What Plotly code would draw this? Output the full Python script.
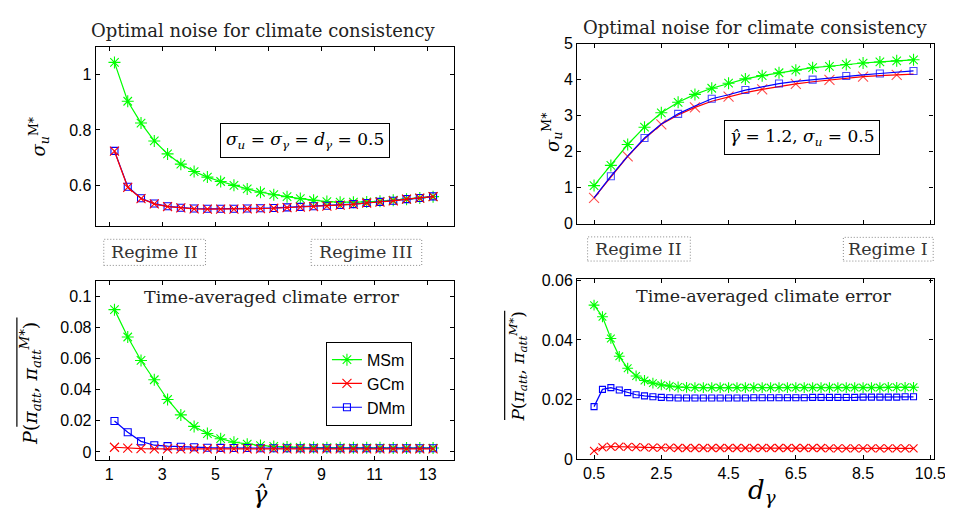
import plotly.graph_objects as go

# ---------------- data ----------------
gamma_hat = [1.2, 1.7, 2.2, 2.7, 3.2, 3.7, 4.2, 4.7, 5.2, 5.7, 6.2, 6.7, 7.2,
             7.7, 8.2, 8.7, 9.2, 9.7, 10.2, 10.7, 11.2, 11.7, 12.2, 12.7, 13.2]

msm_noise_g = [1.045, 0.904, 0.825, 0.760, 0.713, 0.676, 0.649, 0.629, 0.613, 0.599,
               0.586, 0.574, 0.565, 0.558, 0.551, 0.545, 0.540, 0.538, 0.538, 0.539,
               0.541, 0.545, 0.549, 0.553, 0.558]
gcm_noise_g = [0.723, 0.592, 0.551, 0.532, 0.522, 0.517, 0.514, 0.513, 0.513, 0.513,
               0.514, 0.515, 0.516, 0.518, 0.520, 0.522, 0.524, 0.527, 0.530, 0.535,
               0.538, 0.543, 0.549, 0.553, 0.558]
dmm_noise_g = [0.724, 0.594, 0.552, 0.533, 0.523, 0.518, 0.515, 0.514, 0.514, 0.514,
               0.515, 0.516, 0.517, 0.519, 0.521, 0.523, 0.525, 0.528, 0.531, 0.535,
               0.539, 0.543, 0.549, 0.553, 0.559]

msm_err_g = [0.0915, 0.0739, 0.0588, 0.0464, 0.0337, 0.0238, 0.0164, 0.0118, 0.0085, 0.0062,
             0.0050, 0.0041, 0.0035, 0.0031, 0.0029, 0.0028, 0.0027, 0.0027, 0.0026, 0.0026,
             0.0026, 0.0025, 0.0025, 0.0025, 0.0025]
gcm_err_g = [0.0030, 0.0025, 0.0021, 0.0020, 0.0020, 0.0019, 0.0019, 0.0019, 0.0019, 0.0019,
             0.0019, 0.0019, 0.0019, 0.0019, 0.0019, 0.0019, 0.0019, 0.0019, 0.0019, 0.0019,
             0.0019, 0.0019, 0.0019, 0.0019, 0.0019]
dmm_err_g = [0.0199, 0.0126, 0.0068, 0.0043, 0.0037, 0.0033, 0.0030, 0.0027, 0.0026, 0.0025,
             0.0025, 0.0024, 0.0024, 0.0024, 0.0024, 0.0024, 0.0024, 0.0024, 0.0024, 0.0024,
             0.0024, 0.0024, 0.0024, 0.0024, 0.0024]

d_gamma_top = [0.5, 1.0, 1.5, 2.0, 2.5, 3.0, 3.5, 4.0, 4.5, 5.0,
               5.5, 6.0, 6.5, 7.0, 7.5, 8.0, 8.5, 9.0, 9.5, 10.0]
msm_noise_d = [1.06, 1.62, 2.20, 2.68, 3.08, 3.37, 3.59, 3.76, 3.90, 4.02,
               4.11, 4.19, 4.26, 4.33, 4.37, 4.42, 4.46, 4.49, 4.52, 4.55]
gcm_noise_d = [0.72, 1.30, 1.87, 2.36, 2.76, 3.02, 3.23, 3.40, 3.53, 3.64,
               3.73, 3.81, 3.88, 3.94, 3.99, 4.04, 4.08, 4.11, 4.13, 4.15]
dmm_noise_d = [0.72, 1.32, 1.88, 2.38, 2.77, 3.05, 3.27, 3.47, 3.58, 3.71,
               3.80, 3.89, 3.95, 4.00, 4.05, 4.10, 4.13, 4.17, 4.20, 4.24]

d_gamma_bot = [0.5, 0.75, 1.0, 1.25, 1.5, 1.75, 2.0, 2.25, 2.5, 2.75,
               3.0, 3.25, 3.5, 3.75, 4.0, 4.25, 4.5, 4.75, 5.0, 5.25,
               5.5, 5.75, 6.0, 6.25, 6.5, 6.75, 7.0, 7.25, 7.5, 7.75,
               8.0, 8.25, 8.5, 8.75, 9.0, 9.25, 9.5, 9.75, 10.0]
msm_err_d = [0.0517, 0.0478, 0.0405, 0.0345, 0.0305, 0.0279, 0.0264, 0.0255, 0.0249, 0.0245,
             0.0242, 0.0241, 0.0240, 0.0240, 0.0240, 0.0240, 0.0240, 0.0240, 0.0240, 0.0240,
             0.0240, 0.0240, 0.0240, 0.0240, 0.0240, 0.0240, 0.0240, 0.0240, 0.0240, 0.0240,
             0.0240, 0.0240, 0.0240, 0.0240, 0.0240, 0.0241, 0.0241, 0.0241, 0.0241]
gcm_err_d = [0.0027, 0.0039, 0.0042, 0.0042, 0.0041, 0.0040, 0.0039, 0.0038, 0.0038, 0.0038,
             0.0037, 0.0037, 0.0037, 0.0037, 0.0037, 0.0037, 0.0037, 0.0037, 0.0037, 0.0037,
             0.0037, 0.0037, 0.0037, 0.0037, 0.0037, 0.0037, 0.0037, 0.0037, 0.0036, 0.0036,
             0.0036, 0.0036, 0.0036, 0.0036, 0.0036, 0.0036, 0.0036, 0.0036, 0.0036]
dmm_err_d = [0.0176, 0.0234, 0.0240, 0.0232, 0.0223, 0.0216, 0.0212, 0.0209, 0.0207, 0.0206,
             0.0205, 0.0205, 0.0205, 0.0205, 0.0205, 0.0205, 0.0205, 0.0205, 0.0205, 0.0206,
             0.0206, 0.0206, 0.0206, 0.0206, 0.0206, 0.0206, 0.0207, 0.0207, 0.0207, 0.0207,
             0.0207, 0.0207, 0.0208, 0.0208, 0.0208, 0.0208, 0.0208, 0.0209, 0.0209]

x_ticks_g = [1, 3, 5, 7, 9, 11, 13]
x_ticks_d = [0.5, 2.5, 4.5, 6.5, 8.5, 10.5]
series_names = ["MSm", "GCm", "DMm"]

# ---------------- styling ----------------
W, H = 953, 510
GREEN, RED, BLUE = "#00ff00", "#ff0000", "#0000ff"
SANS = "Liberation Sans, Arial, sans-serif"
SERIF = "DejaVu Serif, serif"


def px(x):
    return x / W


def py(y):
    return 1 - y / H


fig = go.Figure()


def add_series(x, y, axes, name, color, symbol, size, showlegend=False, sizes=None, rank=None):
    xa, ya = axes
    fig.add_trace(go.Scatter(
        x=x, y=y, xaxis=xa, yaxis=ya, name=name, mode="lines+markers",
        line=dict(color=color, width=1.2),
        marker=dict(symbol=symbol, size=sizes if sizes is not None else size,
                    color=color, line=dict(color=color, width=1.1)),
        showlegend=showlegend, legendrank=rank if rank else 1000,
    ))


# top-left
add_series(gamma_hat, msm_noise_g, ("x", "y"), "MSm", GREEN, "asterisk-open", 10)
add_series(gamma_hat, dmm_noise_g, ("x", "y"), "DMm", BLUE, "square-open", 7)
add_series(gamma_hat, gcm_noise_g, ("x", "y"), "GCm", RED, "x-thin-open", 9)
# bottom-left (legend)
add_series(gamma_hat, msm_err_g, ("x2", "y2"), "MSm", GREEN, "asterisk-open", 10, True, rank=1)
add_series(gamma_hat, dmm_err_g, ("x2", "y2"), "DMm", BLUE, "square-open", 7, True, rank=3)
add_series(gamma_hat, gcm_err_g, ("x2", "y2"), "GCm", RED, "x-thin-open", 9, True, rank=2)
# top-right: markers alternate between series
red_sizes = [10 if i % 2 == 0 else 0 for i in range(len(d_gamma_top))]
blue_sizes = [7 if i % 2 == 1 else 0 for i in range(len(d_gamma_top))]
add_series(d_gamma_top, msm_noise_d, ("x3", "y3"), "MSm", GREEN, "asterisk-open", 10)
add_series(d_gamma_top, gcm_noise_d, ("x3", "y3"), "GCm", RED, "x-thin-open", 10, sizes=red_sizes)
add_series(d_gamma_top, dmm_noise_d, ("x3", "y3"), "DMm", BLUE, "square-open", 7, sizes=blue_sizes)
# bottom-right
add_series(d_gamma_bot, msm_err_d, ("x4", "y4"), "MSm", GREEN, "asterisk-open", 9)
add_series(d_gamma_bot, dmm_err_d, ("x4", "y4"), "DMm", BLUE, "square-open", 6)
add_series(d_gamma_bot, gcm_err_d, ("x4", "y4"), "GCm", RED, "x-thin-open", 8)

axis_common = dict(showline=True, linecolor="black", linewidth=1.4, mirror="allticks",
                   ticks="inside", ticklen=4, tickwidth=1, tickcolor="black",
                   showgrid=False, zeroline=False,
                   tickfont=dict(family=SANS, size=16, color="black"))

dom_left = [px(89), px(452)]
dom_right = [px(576.5), px(937.5)]

fig.update_layout(
    width=W, height=H, margin=dict(l=0, r=0, t=0, b=0),
    paper_bgcolor="white", plot_bgcolor="white",
    xaxis=dict(domain=dom_left, anchor="y", range=[0.5, 14], tickvals=x_ticks_g,
               showticklabels=False, **axis_common),
    yaxis=dict(domain=[py(217.7), py(32.3)], anchor="x", range=[0.45, 1.1],
               tickvals=[0.6, 0.8, 1.0], ticktext=["0.6", "0.8", "1"], **axis_common),
    xaxis2=dict(domain=dom_left, anchor="y2", range=[0.5, 14], tickvals=x_ticks_g,
                ticktext=[str(v) for v in x_ticks_g], **axis_common),
    yaxis2=dict(domain=[py(459.3), py(274)], anchor="x2", range=[-0.0052, 0.11],
                tickvals=[0, 0.02, 0.04, 0.06, 0.08, 0.1],
                ticktext=["0", "0.02", "0.04", "0.06", "0.08", "0.1"], **axis_common),
    xaxis3=dict(domain=dom_right, anchor="y3", range=[0, 10.6], tickvals=x_ticks_d,
                showticklabels=False, **axis_common),
    yaxis3=dict(domain=[py(215), py(28.5)], anchor="x3", range=[0, 5],
                tickvals=[0, 1, 2, 3, 4, 5], **axis_common),
    xaxis4=dict(domain=dom_right, anchor="y4", range=[0, 10.6], tickvals=x_ticks_d,
                ticktext=[str(v) for v in x_ticks_d], **axis_common),
    yaxis4=dict(domain=[py(458.3), py(272)], anchor="x4", range=[0, 0.0605],
                tickvals=[0, 0.02, 0.04, 0.06], ticktext=["0", "0.02", "0.04", "0.06"],
                **axis_common),
    legend=dict(x=px(322), y=py(337), xanchor="left", yanchor="top",
                bgcolor="white", bordercolor="black", borderwidth=1,
                font=dict(family=SANS, size=16, color="black"),
                itemwidth=30, tracegroupgap=0),
)

ann = []


def text(x, y, t, size, family=SERIF, color="#222", angle=0, **kw):
    ann.append(dict(x=px(x), y=py(y), xref="paper", yref="paper", text=t, showarrow=False,
                    font=dict(family=family, size=size, color=color), textangle=angle,
                    xanchor="center", yanchor="middle", **kw))


title = "Optimal noise for climate consistency"
text(258.5, 15, title, 18)
text(757, 12, title, 18)
text(267.5, 291, "Time-averaged climate error", 17.5)
text(765.5, 290, "Time-averaged climate error", 17.5)

# parameter boxes
text(301, 128.5, "<i>σ</i><sub><i>u</i></sub> = <i>σ</i><sub><i>γ</i></sub> = <i>d</i><sub><i>γ</i></sub> = 0.5",
     17, color="black", bordercolor="black", borderwidth=1, bgcolor="white", borderpad=5)
text(804, 126, "<i>γ\u0302</i> = 1.2, <i>σ</i><sub><i>u</i></sub> = 0.5",
     17, color="black", bordercolor="black", borderwidth=1, bgcolor="white", borderpad=5)

# regime labels
regimes = [(97, 200, 231, 258, "Regime II"), (307, 419, 231, 258, "Regime III"),
           (587, 691, 228.5, 253.5, "Regime II"), (846, 937, 229, 253.5, "Regime I")]
shapes = []
for x0, x1, y0, y1, t in regimes:
    shapes.append(dict(type="rect", xref="paper", yref="paper", x0=px(x0), x1=px(x1),
                       y0=py(y1), y1=py(y0), line=dict(color="#888", width=1, dash="1px,2px")))
    text((x0 + x1) / 2, (y0 + y1) / 2, t, 17.5, color="#333")

# axis labels
text(256, 495, "<i>γ\u0302</i>", 24, color="black")
text(764, 492, "<i>d</i><sub><i>γ</i></sub>", 26, color="black")
text(31, 125, "<i>σ</i><sub><i>u</i></sub><sup>M*</sup>", 18, color="black", angle=-90)
text(551, 120, "<i>σ</i><sub><i>u</i></sub><sup>M*</sup>", 18, color="black", angle=-90)
p_label = "<i>P</i>(<i>π</i><sub><i>att</i></sub>, <i>π</i><sub><i>att</i></sub><sup><i>M</i>*</sup>)"
text(23, 380, p_label, 19, color="black", angle=-90)
text(517, 362, p_label, 17, color="black", angle=-90)
shapes.append(dict(type="line", xref="paper", yref="paper", x0=px(9), x1=px(9),
                   y0=py(425), y1=py(312), line=dict(color="black", width=1.2)))
shapes.append(dict(type="line", xref="paper", yref="paper", x0=px(503), x1=px(503),
                   y0=py(418), y1=py(305), line=dict(color="black", width=1.2)))

fig.update_layout(annotations=ann, shapes=shapes)
fig.write_html("out.html")
